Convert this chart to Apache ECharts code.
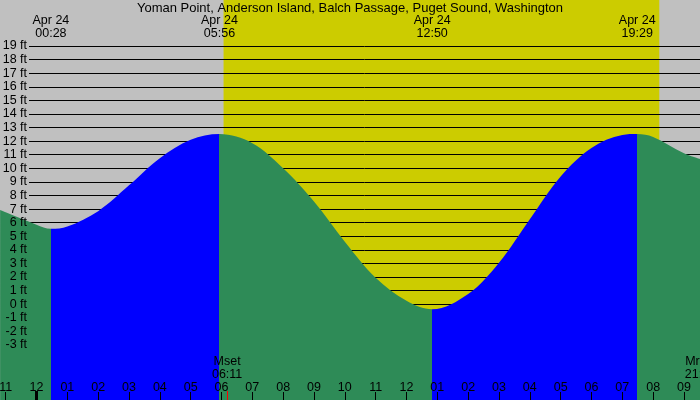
<!DOCTYPE html>
<html><head><meta charset="utf-8">
<script src="https://cdn.jsdelivr.net/npm/echarts@6/dist/echarts.min.js"></script>
<style>html,body{margin:0;padding:0;background:#c0c0c0}#c{width:700px;height:400px}</style>
</head><body><div id="c"></div>
<script>
const chartTitle = 'Yoman Point, Anderson Island, Balch Passage, Puget Sound, Washington';
const dateLabel = 'Apr 24';
// tide curve: hours since midnight Apr 24, height in feet
const tideHours = [-1.18, -1, 0, 0.467, 1, 2, 3, 4, 5, 5.933, 7, 8, 9, 10, 11, 12, 12.833, 14, 15, 16, 17, 18, 19, 19.483, 20, 21, 21.52];
const tideFeet  = [6.93, 6.76, 5.85, 5.55, 5.72, 6.85, 8.75, 10.75, 12.1, 12.52, 11.85, 10.0, 7.55, 4.6, 1.95, 0.25, -0.37, 0.75, 3.05, 6.25, 9.4, 11.5, 12.45, 12.52, 12.3, 11.1, 10.68];
const extremeTimes = ['00:28', '05:56', '12:50', '19:29'];
const extremeKinds = ['low', 'high', 'low', 'high'];
const sunTimes = ['06:04', '20:12'];
const moonNames = ['Mset', 'Mrise'];
const moonTimes = ['06:11', '21:32'];
const hourTicks = [-1,0,1,2,3,4,5,6,7,8,9,10,11,12,13,14,15,16,17,18,19,20,21];
const hourLabels = ['11','12','01','02','03','04','05','06','07','08','09','10','11','12','01','02','03','04','05','06','07','08','09'];
const feetMin = -3, feetMax = 19;

const viewStart = -1.184, viewEnd = 21.52;
const FONT = 'Liberation Sans';
const GREEN = '#2e8b57', BLUE = '#0000ff', DAY = '#cccc00', NIGHT = '#c0c0c0';

const toH = s => { const [h, m] = s.split(':').map(Number); return h + m / 60; };
const extHours = extremeTimes.map(toH);

// layout of the foot scale
const gTop = 46, gHeight = 299;
const pxPerFt = gHeight / (feetMax - feetMin);
const yMax0 = feetMax + gTop / pxPerFt;
const yMin0 = feetMin - (400 - gTop - gHeight) / pxPerFt;

const pieces = [];
extHours.forEach((h, i) => {
  const p = { lt: h, color: extremeKinds[i] === 'low' ? GREEN : BLUE };
  if (i > 0) p.gte = extHours[i - 1];
  pieces.push(p);
});
pieces.push({ gte: extHours[extHours.length - 1], color: extremeKinds[extremeKinds.length - 1] === 'high' ? GREEN : BLUE });

const chart = echarts.init(document.getElementById('c'), null, { renderer: 'canvas' });
chart.setOption({
  backgroundColor: NIGHT,
  animation: false,
  title: { text: chartTitle, left: 'center', top: 1, padding: 0,
    textStyle: { fontFamily: FONT, fontSize: 13, fontWeight: 'normal', color: '#000', lineHeight: 14 } },
  grid: [
    { left: 0, right: 0, top: 0, bottom: 0, outerBoundsMode: 'none', containLabel: false },
    { left: 29, right: 0, top: gTop, height: gHeight, outerBoundsMode: 'none', containLabel: false }
  ],
  xAxis: [
    { type: 'value', gridIndex: 0, min: viewStart, max: viewEnd, position: 'bottom', z: 5,
      axisLine: { show: false, onZero: false }, splitLine: { show: false },
      axisTick: { show: true, inside: true, length: 8, lineStyle: { color: '#000', width: 1 }, customValues: hourTicks },
      axisLabel: { show: true, inside: true, margin: 12, verticalAlign: 'middle', customValues: hourTicks,
        color: '#000', fontFamily: FONT, fontSize: 12.5,
        formatter: v => hourLabels[hourTicks.indexOf(Math.round(v))] } },
    { type: 'value', gridIndex: 1, min: 0, max: 1, show: false, axisLine: { onZero: false } }
  ],
  yAxis: [
    { type: 'value', gridIndex: 0, min: yMin0, max: yMax0, show: false, axisLine: { onZero: false } },
    { type: 'value', gridIndex: 1, min: feetMin, max: feetMax, interval: 1, z: 1,
      axisLine: { show: false, onZero: false }, axisTick: { show: false }, axisLabel: { show: false },
      splitLine: { show: true, lineStyle: { color: '#000', width: 1 } } },
    { type: 'value', gridIndex: 1, min: feetMin, max: feetMax, interval: 1, z: 5, position: 'left',
      axisLine: { show: false, onZero: false }, axisTick: { show: false }, splitLine: { show: false },
      axisLabel: { margin: 2, color: '#000', fontFamily: FONT, fontSize: 12.5, padding: [2, 0, 0, 0], formatter: '{value} ft' } }
  ],
  visualMap: { show: false, type: 'piecewise', dimension: 0, seriesIndex: 1, pieces: pieces },
  series: [
    { type: 'custom', xAxisIndex: 0, yAxisIndex: 0, z: 0, silent: true,
      data: [[toH(sunTimes[0]), toH(sunTimes[1])]],
      renderItem: (params, api) => {
        const a = api.coord([api.value(0), yMax0]);
        const b = api.coord([api.value(1), yMin0]);
        return { type: 'rect', shape: { x: a[0], y: a[1], width: b[0] - a[0], height: b[1] - a[1] }, style: { fill: DAY } };
      } },
    { type: 'line', xAxisIndex: 0, yAxisIndex: 0, z: 2, silent: true, smooth: 0.35, symbol: 'none',
      data: tideHours.map((h, i) => [h, tideFeet[i]]),
      lineStyle: { width: 0 },
      areaStyle: { opacity: 1, origin: 'start' } },
    { type: 'custom', xAxisIndex: 0, yAxisIndex: 0, z: 6, silent: true,
      data: [[0, 0]].concat(moonTimes.map(t => [toH(t), 1])),
      renderItem: (params, api) => {
        const p = api.coord([api.value(0), yMin0]);
        const kind = api.value(1);
        const x = kind === 0 ? p[0] : Math.round(p[0] - 0.5) + 0.5;
        return { type: 'line', shape: { x1: x, y1: p[1], x2: x, y2: p[1] - 9 },
          style: { stroke: kind === 0 ? '#000' : '#ff0000', lineWidth: kind === 0 ? 3 : 1 } };
      } },
    { type: 'custom', xAxisIndex: 0, yAxisIndex: 0, z: 6, silent: true,
      data: extHours.map((h, i) => [h, i]),
      renderItem: (params, api) => {
        const p = api.coord([api.value(0), yMax0]);
        return { type: 'text', style: { text: dateLabel + '\n' + extremeTimes[api.value(1)], x: p[0], y: p[1] + 14.5,
          align: 'center', verticalAlign: 'top', font: '12.5px "' + FONT + '"', lineHeight: 12.5, fill: '#000' } };
      } },
    { type: 'custom', xAxisIndex: 0, yAxisIndex: 0, z: 6, silent: true, clip: false,
      data: moonTimes.map((t, i) => [toH(t), i]),
      renderItem: (params, api) => {
        const p = api.coord([api.value(0), yMin0]);
        return { type: 'text', style: { text: moonNames[api.value(1)] + '\n' + moonTimes[api.value(1)], x: p[0], y: p[1] - 18.5,
          align: 'center', verticalAlign: 'bottom', font: '12.5px "' + FONT + '"', lineHeight: 13, fill: '#000' } };
      } }
  ]
});
</script>
</body></html>
